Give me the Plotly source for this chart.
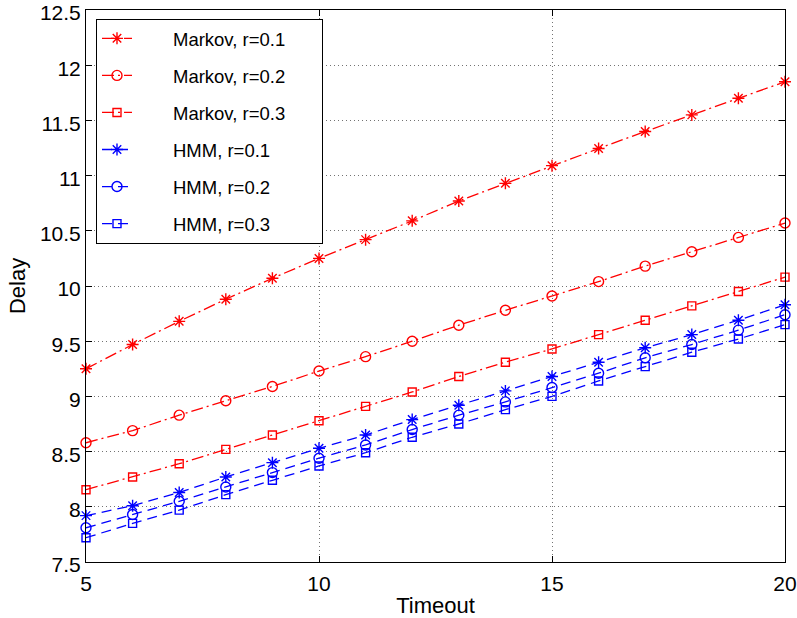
import plotly.graph_objects as go

timeout = list(range(5, 21))
markov_r01 = [9.25, 9.47, 9.68, 9.88, 10.07, 10.25, 10.42, 10.59, 10.77, 10.93, 11.09, 11.245, 11.40, 11.55, 11.70, 11.85]
markov_r02 = [8.58, 8.69, 8.83, 8.96, 9.09, 9.23, 9.36, 9.50, 9.645, 9.78, 9.91, 10.04, 10.18, 10.31, 10.44, 10.57]
markov_r03 = [8.155, 8.27, 8.39, 8.52, 8.65, 8.78, 8.91, 9.04, 9.18, 9.31, 9.43, 9.56, 9.69, 9.82, 9.95, 10.08]
hmm_r01 = [7.92, 8.01, 8.13, 8.27, 8.40, 8.53, 8.65, 8.79, 8.92, 9.05, 9.18, 9.31, 9.44, 9.56, 9.69, 9.83]
hmm_r02 = [7.81, 7.93, 8.05, 8.18, 8.31, 8.44, 8.56, 8.70, 8.83, 8.95, 9.08, 9.21, 9.35, 9.47, 9.60, 9.74]
hmm_r03 = [7.72, 7.85, 7.97, 8.11, 8.24, 8.37, 8.49, 8.63, 8.75, 8.88, 9.00, 9.14, 9.27, 9.40, 9.52, 9.65]

names = ["Markov, r=0.1", "Markov, r=0.2", "Markov, r=0.3", "HMM, r=0.1", "HMM, r=0.2", "HMM, r=0.3"]
values = [markov_r01, markov_r02, markov_r03, hmm_r01, hmm_r02, hmm_r03]
colors = ["red", "red", "red", "blue", "blue", "blue"]
dashes = ["12px,4px,2px,4px"] * 3 + ["10px,6px"] * 3
symbols = ["asterisk-open", "circle-open", "square-open"] * 2
sizes = [10, 10, 8] * 2

pad_l = "\u00a0" * 7
pad_r = "\u00a0" * 6

fig = go.Figure()
for i in range(6):
    col = colors[i]
    fig.add_trace(go.Scatter(
        x=timeout, y=values[i], name=pad_l + names[i] + pad_r, mode="lines+markers",
        line=dict(color=col, dash=dashes[i], width=1.3),
        marker=dict(symbol=symbols[i], size=sizes[i], color=col, line=dict(color=col, width=1.4)),
        legendgroup=f"g{i}", cliponaxis=False,
    ))

font = "Liberation Sans, Arial, Helvetica, sans-serif"
axis_common = dict(
    showline=True, linecolor="black", linewidth=1, mirror="ticks",
    ticks="inside", ticklen=6, tickcolor="black",
    showgrid=True, gridcolor="rgba(0,0,0,0.55)", griddash="1px,3px", gridwidth=1,
    zeroline=False, tickfont=dict(family=font, size=21, color="black"),
    ticklabeloverflow="allow", automargin=False,
)
fig.update_xaxes(range=[5, 20], dtick=5, tick0=5, ticklabelstandoff=3,
                 title=dict(text="Timeout", font=dict(family=font, size=22, color="black"), standoff=5),
                 **axis_common)
fig.update_yaxes(range=[7.5, 12.5], dtick=0.5, tick0=7.5, ticklabelshift=3,
                 title=dict(text="Delay", font=dict(family=font, size=22, color="black"), standoff=8),
                 **axis_common)

fig.update_layout(
    width=797, height=618,
    margin=dict(l=86, r=12, t=10, b=56, autoexpand=False),
    plot_bgcolor="white", paper_bgcolor="white",
    legend=dict(
        x=0.0143, y=0.984, xanchor="left", yanchor="top",
        bgcolor="white", bordercolor="black", borderwidth=1,
        font=dict(family=font, size=18.5, color="black"),
        tracegroupgap=10, traceorder="grouped",
    ),
    showlegend=True,
)

fig.write_html("out.html")
